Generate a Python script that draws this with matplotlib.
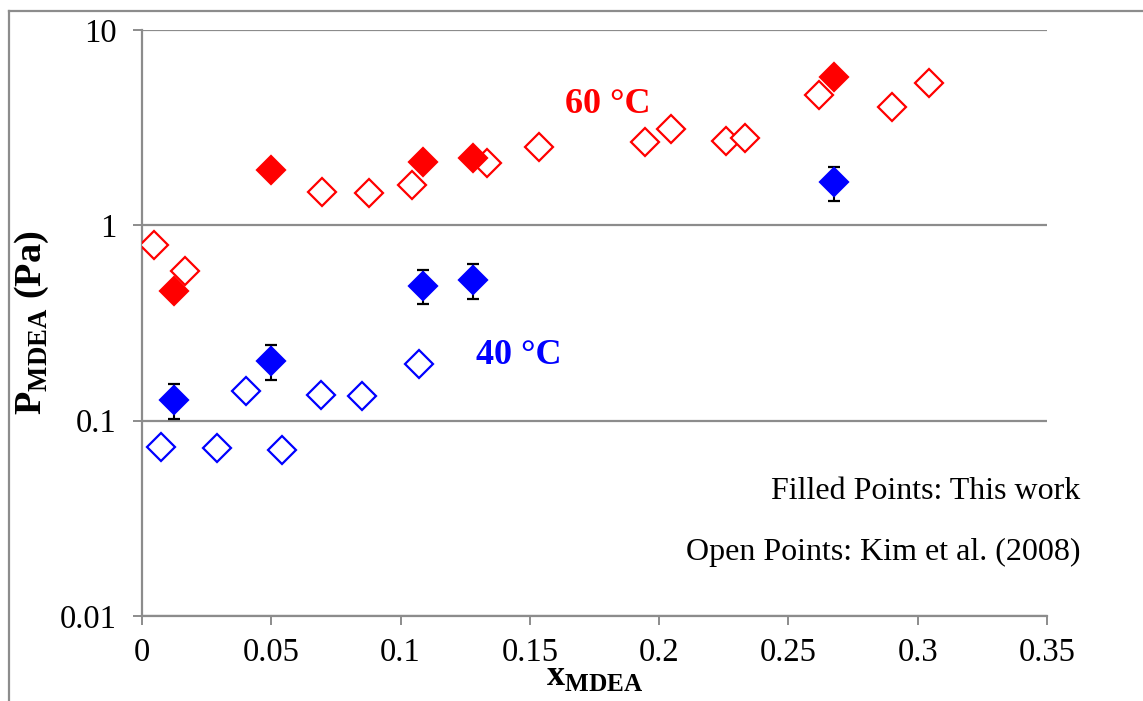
import numpy as np
import matplotlib
matplotlib.use('Agg')
import matplotlib.pyplot as plt
from matplotlib.lines import Line2D
from matplotlib.ticker import FixedLocator, FuncFormatter

plt.rcParams['font.family'] = ['Liberation Serif', 'DejaVu Serif']
plt.rcParams['mathtext.fontset'] = 'custom'
plt.rcParams['mathtext.rm'] = 'Liberation Serif'
plt.rcParams['mathtext.bf'] = 'Liberation Serif:bold'

# 60 C, open points (Kim et al. 2008)
red_open_x = [0.0048, 0.0167, 0.0698, 0.0876, 0.1046, 0.1336, 0.1536, 0.1946,
              0.2044, 0.2260, 0.2332, 0.2620, 0.2900, 0.3043]
red_open_y = [0.795, 0.587, 1.49, 1.46, 1.61, 2.08, 2.51, 2.67,
              3.10, 2.71, 2.79, 4.66, 4.04, 5.34]
# 60 C, filled points (this work)
red_fill_x = [0.0122, 0.0497, 0.1086, 0.1280, 0.2676]
red_fill_y = [0.462, 1.92, 2.11, 2.21, 5.72]

# 40 C, open points
blue_open_x = [0.0075, 0.0291, 0.0402, 0.0540, 0.0693, 0.0849, 0.1073]
blue_open_y = [0.0730, 0.0721, 0.142, 0.0705, 0.136, 0.134, 0.195]
# 40 C, filled points with error bars
blue_fill_x = [0.0122, 0.0497, 0.1086, 0.1280, 0.2676]
blue_fill_y = [0.127, 0.201, 0.492, 0.526, 1.675]
blue_fill_lo = [0.102, 0.162, 0.396, 0.421, 1.34]
blue_fill_hi = [0.1535, 0.2426, 0.591, 0.634, 2.00]

x_ticks = [0, 0.05, 0.1, 0.15, 0.2, 0.25, 0.3, 0.35]
y_ticks = [0.01, 0.1, 1, 10]

RED = '#FF0000'
BLUE = '#0000FF'
GRAY = '#8c8c8c'

fig = plt.figure(figsize=(11.43, 7.01), dpi=100)
ax = fig.add_axes([142/1143, 85/701, 905/1143, 586/701])

ms = 14.3
mew = 1.6

# open points first
ax.plot(red_open_x, red_open_y, 'D', ms=ms, mfc='white', mec=RED, mew=mew, ls='none', zorder=3)
ax.plot(blue_open_x, blue_open_y, 'D', ms=ms, mfc='white', mec=BLUE, mew=mew, ls='none', zorder=3)

# filled points
ax.plot(red_fill_x, red_fill_y, 'D', ms=ms, mfc=RED, mec=RED, mew=mew, ls='none', zorder=4)
yb = np.array(blue_fill_y)
yerr = [yb - np.array(blue_fill_lo), np.array(blue_fill_hi) - yb]
ax.errorbar(blue_fill_x, blue_fill_y, yerr=yerr, fmt='D', ms=ms, mfc=BLUE, mec=BLUE, mew=mew,
            ecolor='black', elinewidth=1.5, capsize=4.5, capthick=1.5, zorder=4)

ax.set_yscale('log')
ax.set_xlim(0, 0.35)
ax.set_ylim(0.01, 10)
ax.xaxis.set_major_locator(FixedLocator(x_ticks))
ax.yaxis.set_major_locator(FixedLocator(y_ticks))
ax.yaxis.set_minor_locator(FixedLocator([]))
fmt = FuncFormatter(lambda v, p: '%g' % v)
ax.xaxis.set_major_formatter(fmt)
ax.yaxis.set_major_formatter(fmt)

ax.grid(axis='y', color=GRAY, lw=1.6, zorder=0)
ax.set_axisbelow(True)
for s in ['top', 'right']:
    ax.spines[s].set_visible(False)
for s in ['left', 'bottom']:
    ax.spines[s].set_color(GRAY)
    ax.spines[s].set_linewidth(1.6)
ax.tick_params(axis='both', direction='out', length=6.5, width=1.4, color=GRAY,
               labelsize=23.5, labelcolor='black')
ax.tick_params(axis='x', pad=9)
ax.tick_params(axis='y', pad=12)

ax.set_xlabel(r'$\mathbf{x}_{\mathbf{MDEA}}$', fontsize=26, labelpad=-6)
ax.set_ylabel(r'$\mathbf{P}_{\mathbf{MDEA}}$' + ' (Pa)', fontsize=27.5, fontweight='bold', labelpad=6)

ax.text(0.515, 0.858, '60 °C', transform=ax.transAxes, color=RED, fontsize=26,
        fontweight='bold', ha='center', va='baseline')
ax.text(0.4166, 0.43, '40 °C', transform=ax.transAxes, color=BLUE, fontsize=26,
        fontweight='bold', ha='center', va='baseline')
ax.text(1.0365, 0.1997, 'Filled Points: This work', transform=ax.transAxes,
        fontsize=23, ha='right', va='baseline', clip_on=False)
ax.text(1.0365, 0.0956, 'Open Points: Kim et al. (2008)', transform=ax.transAxes,
        fontsize=23, ha='right', va='baseline', clip_on=False)

# outer frame (left and top edges visible)
fig.add_artist(Line2D([8.5/1143, 8.5/1143], [0, 1 - 10.5/701], transform=fig.transFigure,
                      color=GRAY, lw=1.6))
fig.add_artist(Line2D([8.5/1143, 1], [1 - 10.5/701, 1 - 10.5/701], transform=fig.transFigure,
                      color=GRAY, lw=1.6))

fig.savefig('out.png', dpi=100)
